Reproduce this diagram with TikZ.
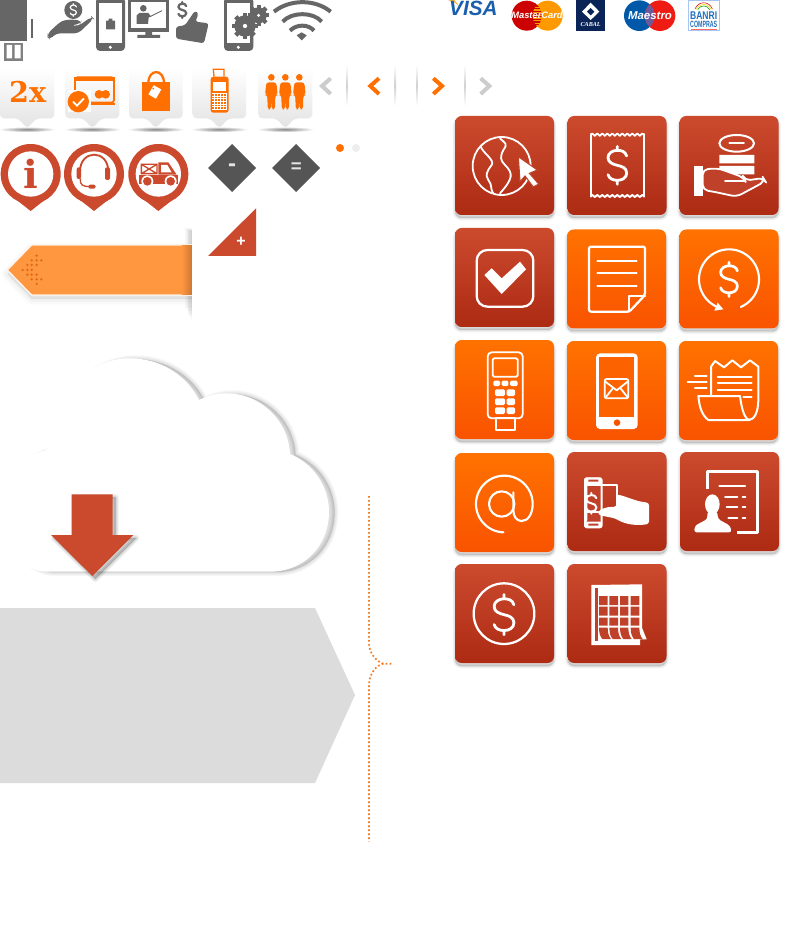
\documentclass[tikz,border=0pt]{standalone}
\usepackage{fontspec}
\setmainfont{Liberation Sans}
\newfontfamily\slabfont{DejaVu Serif}
\newfontfamily\romanfont{Liberation Serif}
\usetikzlibrary{decorations.pathmorphing}
\definecolor{redtop}{HTML}{CC4B2E}
\definecolor{redbot}{HTML}{AD2A13}
\definecolor{redmid}{HTML}{C0412A}
\definecolor{orgtop}{HTML}{FF7200}
\definecolor{orgbot}{HTML}{F95300}
\definecolor{orgmid}{HTML}{FC6300}
\definecolor{pinred}{HTML}{CB4A2E}
\definecolor{icongrey}{HTML}{666666}
\definecolor{diagrey}{HTML}{555555}
\definecolor{chevgrey}{HTML}{CCCCCC}
\definecolor{orangeicon}{HTML}{FF7000}
\definecolor{bandorange}{HTML}{FF9640}
\definecolor{banddot}{HTML}{DD6C12}
\definecolor{pentgrey}{HTML}{DCDCDC}
\definecolor{dotline}{HTML}{F47A20}
\definecolor{visablue}{HTML}{1A5FAD}
\definecolor{visagold}{HTML}{F5B335}
\definecolor{mcred}{HTML}{CC0000}
\definecolor{mcorange}{HTML}{FF9900}
\definecolor{cabalnavy}{HTML}{0A2458}
\definecolor{maeblue}{HTML}{0059A8}
\definecolor{maered}{HTML}{EE1C12}
\definecolor{maepurple}{HTML}{6C5A9B}
\definecolor{banriblue}{HTML}{1F6FC0}
\definecolor{banriedge}{HTML}{A8C4F0}
\tikzset{
  zoomat/.style 2 args={shift={(#1,#2)},x=0.25pt,y=-0.25pt},
  wl/.style={draw=white,line width=1.7pt,line cap=round,line join=round},
  wf/.style={fill=white},
  wthin/.style={draw=white,line width=1.35pt,line cap=round,line join=round},
  chev/.style={line width=3pt,line join=miter},
  txt/.style={inner sep=0pt,outer sep=0pt},
}
\newcommand{\softshadow}[5]{%
  \foreach \k in {1,...,8}{%
    \path[fill=black,draw=black,fill opacity=#4,draw opacity=#4,line join=round,
      line width={\k*#3/8*1pt},shift={(#1,#2)}] #5;}}
\newcommand{\tile}[3]{%
  \softshadow{0}{3}{4}{.014}{[rounded corners=5pt] (#1,#2) rectangle ++(99,99)}
  \shade[top color=#3top,bottom color=#3bot,rounded corners=5pt] (#1,#2) rectangle ++(99,99);}
\newcommand{\dollarsign}[5]{% x y scale width colour
  \begin{scope}[shift={(#1,#2)},x=#3*0.25pt,y=-#3*0.25pt]
    \draw[draw=#5,line width=#4pt,line cap=round,line join=round]
      (28,-28) .. controls (24,-42) and (12,-45) .. (0,-45)
      .. controls (-15,-45) and (-28,-36) .. (-28,-23)
      .. controls (-28,-8) and (-12,-3) .. (0,0)
      .. controls (14,3) and (28,8) .. (28,23)
      .. controls (28,37) and (15,45) .. (0,45)
      .. controls (-12,45) and (-25,40) .. (-28,28)
      (0,-57) -- (0,-45) (0,45) -- (0,57);
  \end{scope}}
\newcommand{\bubble}[2]{% left right
  \pgfmathsetmacro{\cx}{(#1+#2)/2}
  \pgfmathsetmacro{\ca}{\cx-27}
  \pgfmathsetmacro{\cb}{\cx+27}
  \shade[inner color=black!48,outer color=white] (\cx,388) ellipse [x radius=86,y radius=8];
  \shade[top color=white,middle color=white,bottom color=black!11,rounded corners=3pt]
    (#1,205) -- (#2,205) -- (#2,355) -- (\cb,355) -- (\cx,386) -- (\ca,355) -- (#1,355) -- cycle;}
\newcommand{\gearshape}[3]{% x y r
  \fill[icongrey] (#1,#2) circle [radius=#3];
  \foreach \a in {0,45,...,315}{%
    \fill[icongrey,rotate around={\a:(#1,#2)}] (#1-6,#2-#3-7) rectangle (#1+6,#2+#3+7);}
  \fill[white] (#1,#2) circle [radius=#3*0.2];}
\newcommand{\person}[1]{%
  \fill[orangeicon] (#1,232) circle [radius=10];
  \fill[orangeicon,rounded corners=2pt] (#1-19,285) -- (#1-15,247) -- (#1+15,247) -- (#1+19,285)
    -- (#1+12,285) -- (#1+11,328) -- (#1+1,328) -- (#1,295) -- (#1-1,328)
    -- (#1-11,328) -- (#1-12,285) -- cycle;}
\newcommand{\pinbody}[2]{%
  \fill[pinred] (#1-42,195) -- (#1,228) -- (#1+42,195) -- cycle;
  \fill[pinred] (#1,#2) circle [radius=90];
  \fill[white] (#1,#2) circle [radius=68];}
\begin{document}
\begin{tikzpicture}[x=0.75pt,y=-0.75pt]
\useasboundingbox (0,0) rectangle (800,944);
\fill[white] (0,0) rectangle (800,944);

% ---------------- top sprites
\begin{scope}[zoomat={0}{0}]
  % grey card block
  \fill[icongrey] (0,-5) rectangle (82,122);
  \fill[icongrey] (92,58) rectangle (98,113);
  \fill[black!50] (13,128) rectangle (70,182);
  \fill[white] (20,135) rectangle (36,175) (44,135) rectangle (62,175);
  % hand with coin
  \fill[icongrey] (220,30) circle [radius=27];
  \dollarsign{220}{30}{.33}{.9}{white}
  \fill[icongrey,rounded corners=3pt] (143,100) -- (185,62) -- (215,58) -- (245,62) -- (240,72) -- (212,76)
    -- (235,78) -- (275,50) -- (281,56) -- (235,100) -- (168,100) -- (150,119) -- (143,112) -- cycle;
  % phone with bag
  \fill[icongrey,rounded corners=3pt] (288,-8) rectangle (375,153);
  \fill[white] (298,8) rectangle (365,130);
  \fill[icongrey] (318,62) rectangle (345,88) (326,56) rectangle (337,62);
  \fill[white] (331,142) circle [radius=5];
  % monitor
  \fill[icongrey] (385,-4) rectangle (507,96);
  \fill[white] (394,5) rectangle (498,85);
  \fill[icongrey] (436,96) rectangle (456,106) (412,105) rectangle (480,114);
  \fill[icongrey] (430,25) circle [radius=10];
  \fill[icongrey] (410,72) -- (410,46) -- (418,39) -- (445,39) -- (452,48) -- (446,53) -- (444,72) -- cycle;
  \draw[icongrey,line width=.7pt] (450,50) -- (486,32);
  % dollar and thumb
  \dollarsign{547}{30}{.42}{1.7}{icongrey}
  \fill[icongrey,rounded corners=2pt] (528,80) -- (555,76) -- (585,32) -- (596,40) -- (586,65) -- (626,70)
    -- (612,130) -- (528,116) -- cycle;
  % phone with gears
  \fill[icongrey,rounded corners=3pt] (672,-8) rectangle (760,153);
  \fill[white] (682,8) rectangle (750,130);
  \fill[white] (715,142) circle [radius=5];
  \gearshape{735}{78}{32}
  \gearshape{776}{46}{24}
  % wifi
  \draw[icongrey,line width=3pt] (822,35) .. controls (870,-3) and (945,-3) .. (992,35);
  \draw[icongrey,line width=3pt] (848,65) .. controls (875,35) and (940,35) .. (965,65);
  \draw[icongrey,line width=3pt] (870,92) .. controls (890,72) and (925,72) .. (942,92);
  \fill[icongrey] (890,106) -- (905,97) -- (920,106) -- (905,121) -- cycle;

  % tooltips
  \bubble{0}{163}
  \bubble{196}{358}
  \bubble{387}{548}
  \bubble{578}{738}
  \bubble{775}{937}
  \node[txt,text=orangeicon,font=\slabfont\bfseries\fontsize{21.5}{21.5}\selectfont] (twox) at (83,275) {2x};
  % card
  \draw[orangeicon,line width=1.4pt,rounded corners=2pt] (225,232) rectangle (342,308);
  \fill[orangeicon] (223,230) rectangle (344,243);
  \fill[white] (205,270) rectangle (274,335);
  \fill[orangeicon] (274,308) rectangle (345,315);
  \fill[orangeicon] (297,283) circle [radius=13] (317,283) circle [radius=13];
  \fill[orangeicon] (235,305) circle [radius=32];
  \draw[white,line width=1.4pt] (219,305) -- (231,317) -- (252,295);
  % bag
  \fill[orangeicon] (427,245) rectangle (510,333);
  \draw[orangeicon,line width=1.7pt] (445,250) .. controls (445,205) and (492,205) .. (492,250);
  \fill[white,rotate around={-30:(465,275)}] (452,260) -- (478,260) -- (478,292) -- (452,292) -- cycle;
  \fill[orangeicon] (460,266) circle [radius=3];
  % POS
  \draw[orangeicon,line width=1pt] (642,230) -- (640,208) -- (672,208) -- (672,230);
  \fill[orangeicon,rounded corners=2pt] (632,230) rectangle (686,338);
  \fill[white] (640,245) rectangle (678,272);
  \foreach \a in {280,288,...,328}{\draw[white,line width=.4pt] (637,\a) -- (681,\a);}
  \foreach \a in {644,653,...,680}{\draw[white,line width=.4pt] (\a,278) -- (\a,330);}
  % people
  \person{814}
  \person{856}
  \person{898}
\end{scope}

% ---------------- chevrons and brands
\begin{scope}[zoomat={310}{0}]
  \draw[chevgrey,chev] (62,235) -- (36,258) -- (62,282);
  \draw[orangeicon,chev] (207,235) -- (181,258) -- (207,282);
  \draw[orangeicon,chev] (370,235) -- (396,258) -- (370,282);
  \draw[chevgrey,chev] (512,235) -- (538,258) -- (512,282);
  \foreach \a in {111,256,320,465}{%
    \shade[top color=white,bottom color=white,middle color=black!18] (\a-2,195) rectangle (\a+2,318);}
  % visa
  \fill[visagold] (415,1) -- (432,-2) -- (447,18) -- (432,6) -- cycle;
  \node[txt,text=visablue,font=\bfseries\itshape\fontsize{15.5}{15.5}\selectfont] (visa) at (490,24) {VISA};
  % mastercard
  \fill[mcred] (650,47) circle [radius=45];
  \fill[mcorange] (713,47) circle [radius=45];
  \begin{scope}
    \clip (650,47) circle [radius=45];
    \foreach \a in {8,16,...,88}{\fill[mcred] (660,\a) rectangle (700,\a+4);}
  \end{scope}
  \node[txt,text=white,font=\bfseries\itshape\fontsize{7}{7}\selectfont] (mastercard) at (681,47) {MasterCard};
  % cabal
  \fill[cabalnavy] (798,0) rectangle (885,92);
  \fill[white] (842,8) -- (868,35) -- (842,60) -- (816,35) -- cycle;
  \fill[cabalnavy] (842,24) -- (853,35) -- (842,46) -- (831,35) -- cycle;
  \node[txt,text=white,font=\romanfont\bfseries\itshape\fontsize{4.6}{4.6}\selectfont] (cabal) at (842,75) {CABAL};
  % maestro
  \fill[maeblue] (988,47) circle [radius=46];
  \fill[maered] (1050,47) circle [radius=46];
  \begin{scope}
    \clip (988,47) circle [radius=46];
    \fill[maepurple] (1050,47) circle [radius=46];
  \end{scope}
  \node[txt,text=white,font=\bfseries\itshape\fontsize{8.6}{8.6}\selectfont] (maestro) at (1020,47) {Maestro};
  % banri
  \fill[white,draw=banriedge,line width=.5pt] (1135,1) rectangle (1228,92);
  \draw[red!80!black,line width=.4pt] (1155,27) .. controls (1165,2) and (1197,2) .. (1207,27);
  \draw[yellow!80!orange,line width=.4pt] (1159,28) .. controls (1168,8) and (1194,8) .. (1203,28);
  \draw[green!60!black,line width=.4pt] (1163,29) .. controls (1171,14) and (1191,14) .. (1199,29);
  \node[txt,text=banriblue,font=\bfseries\fontsize{8.4}{8.4}\selectfont] (banri) at (1181,46) {\scalebox{.76}[1]{BANRI}};
  \node[txt,text=banriblue,font=\bfseries\fontsize{6.8}{6.8}\selectfont] (compras) at (1181,74) {\scalebox{.58}[1]{COMPRAS}};
  \draw[red!60,line width=.5pt] (1142,87) -- (1222,87);
\end{scope}

% ---------------- pins, diamonds, band
\begin{scope}[zoomat={0}{135}]
  \pinbody{92}{117}
  \node[txt,text=pinred,font=\slabfont\bfseries\fontsize{29}{29}\selectfont] (infoi) at (92,116) {i};
  \pinbody{282}{117}
  \draw[pinred,line width=1.4pt] (240,110) .. controls (240,42) and (325,42) .. (325,110);
  \fill[pinred,rounded corners=1.5pt] (230,97) rectangle (243,132) (315,97) rectangle (330,135);
  \draw[pinred,line width=1pt] (241,130) .. controls (238,150) and (250,155) .. (270,155);
  \fill[pinred,rounded corners=1.5pt] (265,149) rectangle (287,161);
  \pinbody{475}{117}
  \draw[pinred,line width=1pt] (424,88) rectangle (471,116) (424,88) -- (471,116) (471,88) -- (424,116);
  \fill[pinred] (418,119) rectangle (535,146);
  \fill[pinred] (475,119) -- (475,82) -- (505,82) -- (530,119) -- cycle;
  \fill[white] (483,90) -- (502,90) -- (515,112) -- (483,112) -- cycle;
  \fill[white] (442,139) circle [radius=18] (512,139) circle [radius=18];
  \fill[pinred] (442,139) circle [radius=13] (512,139) circle [radius=13];
  % diamonds
  \fill[diagrey] (696,27) -- (768,99) -- (696,171) -- (624,99) -- cycle;
  \fill[diagrey] (888,27) -- (960,99) -- (888,171) -- (816,99) -- cycle;
  \node[txt,text=white!90!black,font=\bfseries\fontsize{18}{18}\selectfont] (minus) at (696,98) {-};
  \node[txt,text=white!90!black,font=\bfseries\fontsize{14}{14}\selectfont] (equals) at (889,97) {=};
  \fill[orangeicon] (1020,39) circle [radius=12];
  \fill[black!7] (1068,39) circle [radius=12];
  % band
  \softshadow{0}{12}{9}{.009}{(22,405) -- (95,330) -- (590,330) -- (590,480) -- (95,480) -- cycle}
  \fill[bandorange,draw=white!92!orange,line width=.9pt,line join=round]
    (22,405) -- (95,330) -- (590,330) -- (590,480) -- (95,480) -- cycle;
  \shade[left color=bandorange,right color=bandorange!70!black] (545,333) rectangle (590,478);
  \foreach \a/\b in {110/362,95/376,110/376,124/376,82/390,95/390,110/390,68/405,82/405,95/405,
                     82/419,95/419,110/419,95/433,110/433,124/433,110/447}{%
    \fill[banddot] (\a,\b) circle [radius=4];}
  \foreach \k in {1,...,5}{%
    \fill[black,opacity=.04] (576-\k*4,290-\k*2) rectangle (576,328);
    \fill[black,opacity=.035] (576-\k*4,483) rectangle (576,560-\k*8);}
  \fill[white] (576,260) rectangle (740,580);
  \fill[pinred] (624,363) -- (768,220) -- (768,363) -- cycle;
  \node[txt,text=white,font=\bfseries\fontsize{12}{12}\selectfont] (plus) at (723,320) {+};
\end{scope}

% ---------------- cloud and arrow
\begin{scope}[zoomat={0}{340}]
  \softshadow{17}{2}{6}{.016}{(150,695) -- (810,695) .. controls (910,695) and (987,620) .. (987,515)
    .. controls (987,440) and (940,370) .. (870,342) .. controls (865,240) and (780,160) .. (680,160)
    .. controls (650,160) and (625,167) .. (597,180) .. controls (560,105) and (480,55) .. (390,55)
    .. controls (260,55) and (150,170) .. (140,330) .. controls (60,350) and (0,420) .. (0,510)
    .. controls (0,600) and (60,695) .. (150,695) -- cycle}
  \fill[white] (150,695) -- (810,695) .. controls (910,695) and (987,620) .. (987,515)
    .. controls (987,440) and (940,370) .. (870,342) .. controls (865,240) and (780,160) .. (680,160)
    .. controls (650,160) and (625,167) .. (597,180) .. controls (560,105) and (480,55) .. (390,55)
    .. controls (260,55) and (150,170) .. (140,330) .. controls (60,350) and (-30,420) .. (-30,510)
    .. controls (-30,600) and (60,700) .. (150,695) -- cycle;
  \softshadow{9}{9}{5}{.024}{(215,463) -- (338,463) -- (338,585) -- (400,585) -- (277,708) -- (153,585) -- (215,585) -- cycle}
  \fill[pinred] (215,463) -- (338,463) -- (338,585) -- (400,585) -- (277,708) -- (153,585) -- (215,585) -- cycle;
\end{scope}

% ---------------- pentagon and brace
\fill[pentgrey] (0,608) -- (315,608) -- (355,695) -- (315,783) -- (0,783) -- cycle;
\begin{scope}[zoomat={300}{590}]
  \draw[dotline,line width=1.25pt,dash pattern=on 1.3pt off 1.7pt]
    (207,-282) -- (207,160) .. controls (207,190) and (230,215) .. (250,221) -- (275,221);
  \draw[dotline,line width=1.25pt,dash pattern=on 1.3pt off 1.7pt]
    (250,221) .. controls (230,225) and (207,250) .. (207,285) -- (207,755);
\end{scope}

% ---------------- tiles
\tile{455}{116}{red}
\tile{567.5}{116}{red}
\tile{679.5}{116}{red}
\tile{455}{228}{red}
\tile{567}{229.5}{org}
\tile{679.5}{229.5}{org}
\tile{455}{340}{org}
\tile{567}{341}{org}
\tile{679}{341}{org}
\tile{455}{453}{org}
\tile{567.5}{452}{red}
\tile{680}{452}{red}
\tile{455}{564}{red}
\tile{567.5}{564}{red}

\begin{scope}[zoomat={450}{110}]
  % globe
  \draw[wthin] (155,168) circle [radius=87];
  \draw[wthin] (92,110) .. controls (100,130) and (135,150) .. (125,165)
    .. controls (110,185) and (105,195) .. (115,210) .. controls (128,225) and (120,240) .. (130,250);
  \draw[wthin] (150,85) .. controls (165,100) and (175,100) .. (160,120)
    .. controls (150,140) and (150,150) .. (165,165) .. controls (190,190) and (190,205) .. (150,250);
  \fill[white,draw=redmid,line width=.8pt] (205,140) -- (262,180) -- (238,190) -- (266,222) -- (250,231)
    -- (225,198) -- (210,215) -- cycle;
  % receipt
  \draw[wthin,decorate,decoration={zigzag,segment length=3.75pt,amplitude=.9pt}] (423,74) -- (583,74);
  \draw[wthin,decorate,decoration={zigzag,segment length=3.75pt,amplitude=.9pt}] (423,258) -- (583,258);
  \draw[wthin] (423,72) -- (423,260) (583,72) -- (583,260);
  \dollarsign{502}{166}{1}{2.1}{white}
  % coins and hand
  \draw[wthin,line width=1.5pt] (860,100) ellipse [x radius=52,y radius=25];
  \draw[wthin] (838,100) -- (882,100);
  \fill[white] (808,135) rectangle (913,160) (808,168) rectangle (913,193);
  \fill[white] (732,168) rectangle (758,258);
  \draw[wthin,fill=redmid,rounded corners=4pt] (758,178) -- (805,175) -- (880,202) -- (885,212)
    -- (940,204) -- (946,214) -- (860,260) -- (790,245) -- (758,240) -- cycle;
  \draw[wthin] (825,213) -- (884,213);
  % check box
  \draw[wl,rounded corners=8pt] (80,420) rectangle (250,590);
  \fill[white] (103,495) -- (125,475) -- (155,505) -- (210,455) -- (228,478) -- (155,552) -- cycle;
  % document
  \draw[wl,rounded corners=1.5pt] (417,410) -- (585,410) -- (585,555) -- (538,605) -- (417,605) -- cycle;
  \draw[wl] (538,605) -- (538,558) -- (585,558);
  \draw[wthin,line width=1.6pt] (442,452) -- (560,452) (442,490) -- (560,490) (442,528) -- (560,528);
  % dollar cycle
  \draw[wthin,line width=1.6pt] plot[domain=67:-250,samples=70] ({837+90*cos(\x)},{508+90*sin(\x)});
  \fill[white] (793,602) -- (820,598) -- (803,578) -- cycle;
  \dollarsign{837}{508}{.9}{2}{white}
\end{scope}

\begin{scope}[zoomat={450}{335}]
  % POS
  \draw[wthin,rounded corners=3pt] (113,52) rectangle (218,250);
  \draw[wthin,rounded corners=1pt] (128,70) rectangle (203,125);
  \draw[wthin] (138,250) rectangle (195,285);
  \fill[white,rounded corners=1pt] (130,137) rectangle (150,153) (155,137) rectangle (175,153) (180,137) rectangle (203,153)
    (135,163) rectangle (165,183) (170,163) rectangle (195,183)
    (135,190) rectangle (165,210) (170,190) rectangle (195,210)
    (135,217) rectangle (165,237) (170,217) rectangle (195,237);
  % phone envelope
  \fill[white,rounded corners=3pt] (438,55) rectangle (563,282);
  \fill[orgmid] (448,65) rectangle (553,245);
  \fill[orgbot] (501,263) circle [radius=10];
  \draw[wthin,rounded corners=1.5pt] (464,132) rectangle (535,190);
  \draw[wthin] (466,140) -- (500,166) -- (533,140) (468,186) -- (490,158) (532,186) -- (510,158);
  % receipt
  \draw[wthin,line width=1.5pt] (783,183) -- (783,95) -- (795,78) -- (822,97) -- (847,76) -- (873,97) -- (900,76) -- (925,95)
    -- (925,190) .. controls (925,235) and (912,255) .. (895,255) -- (775,255)
    .. controls (755,240) and (748,215) .. (745,183) -- (870,183)
    .. controls (875,225) and (885,255) .. (900,255);
  \draw[wthin] (803,125) -- (905,125) (803,145) -- (905,145) (803,165) -- (905,165) (880,187) -- (905,187);
  \draw[wthin,line width=1.6pt] (735,122) -- (770,122) (713,142) -- (770,142) (735,158) -- (770,158);
  % at sign
  \draw[wthin,line width=1.6pt] plot[domain=92:360,samples=60] ({163+85*cos(\x)},{507+85*sin(\x)})
    .. controls (248,535) and (235,558) .. (215,558) .. controls (200,558) and (190,545) .. (190,525) -- (190,472);
  \draw[wthin,line width=1.6pt] (155,507) circle [radius=38];
  % cash and hand
  \draw[wthin,fill=redmid,line width=1.5pt,rounded corners=1.5pt] (405,430) rectangle (455,577);
  \fill[white,rounded corners=1pt] (403,428) rectangle (455,447) (403,560) rectangle (455,578) (403,445) rectangle (412,560);
  \fill[redmid] (415,434) rectangle (445,440) (415,566) rectangle (445,572);
  \draw[wthin,line width=1.5pt] (413,450) -- (500,450) -- (500,525) (413,530) -- (445,530);
  \dollarsign{424}{505}{.55}{1.5}{white}
  \fill[white,rounded corners=2pt] (500,478) .. controls (530,485) and (560,500) .. (597,503) -- (597,567)
    .. controls (560,572) and (530,570) .. (495,550) -- (445,540) -- (445,528) .. controls (470,515) and (480,516) .. (500,515) -- cycle;
  % person and form
  \draw[wl,line width=1.9pt,line cap=butt] (772,462) -- (772,410) -- (922,410) -- (922,592) -- (862,592);
  \draw[wthin,line width=1.5pt] (808,453) -- (885,453) (825,485) -- (862,485) (878,485) -- (886,485)
    (830,516) -- (862,516) (878,516) -- (886,516) (835,548) -- (862,548) (878,548) -- (886,548);
  \fill[white] (787,508) ellipse [x radius=22,y radius=30];
  \fill[white,rounded corners=2pt] (732,592) -- (735,572) -- (772,552) -- (772,530) -- (802,530) -- (804,552) -- (840,572) -- (845,592) -- cycle;
\end{scope}

\begin{scope}[zoomat={450}{555}]
  % dollar coin
  \draw[wthin,line width=1.7pt] (162,176) circle [radius=91];
  \dollarsign{162}{179}{1.06}{2.1}{white}
  % calendar
  \fill[white] (424,90) -- (576,88) -- (576,218) -- (590,253) -- (570,253) -- (570,270) -- (424,270) -- cycle;
  \fill[redmid] (434,100) rectangle (444,258);
  \foreach \a/\b in {447/473,478/504,510/535,542/568}{%
    \fill[redmid] (\a,123) rectangle (\b,150) (\a,155) rectangle (\b,182) (\a,188) rectangle (\b,212);
    \fill[redmid] (\a,218) -- (\b,218) .. controls (\b,235) and (\b+4,245) .. (\b+10,252) -- (\a+10,252) .. controls (\a+4,245) and (\a,235) .. (\a,218) -- cycle;}
\end{scope}
\end{tikzpicture}
\end{document}
